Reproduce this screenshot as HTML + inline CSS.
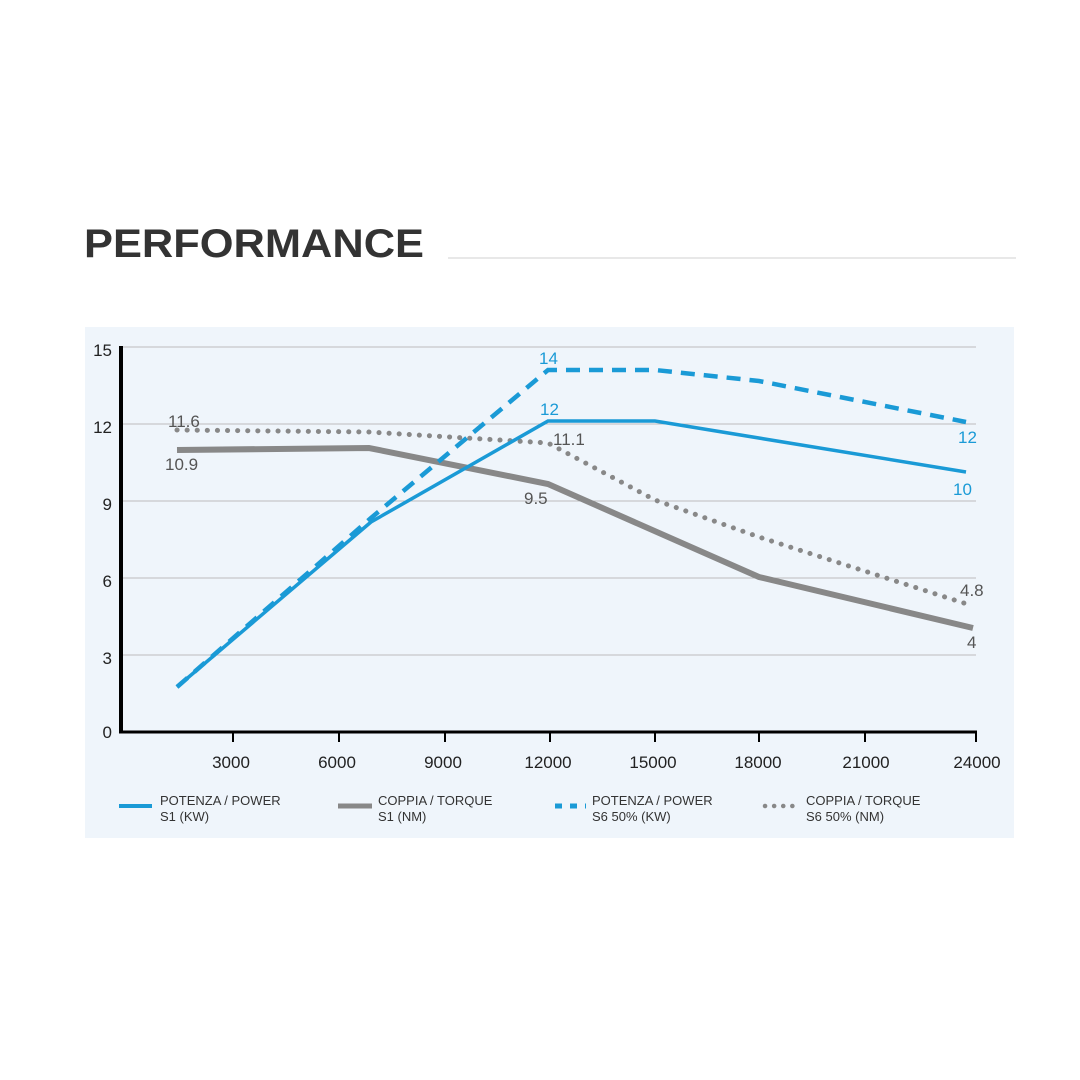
<!DOCTYPE html>
<html><head><meta charset="utf-8"><style>
html,body{margin:0;padding:0;background:#fff;width:1080px;height:1080px;overflow:hidden}
</style></head><body>
<svg width="1080" height="1080" xmlns="http://www.w3.org/2000/svg" font-family="Liberation Sans, sans-serif">
<text x="84" y="257" font-size="40" font-weight="bold" fill="#333" textLength="340" lengthAdjust="spacingAndGlyphs">PERFORMANCE</text>
<line x1="448" y1="258" x2="1016" y2="258" stroke="#e8e8e8" stroke-width="2"/>
<rect x="85" y="327" width="929" height="511" fill="#eff5fb"/>
<g stroke="#bcbcbc" stroke-width="1">
<line x1="121" y1="347" x2="976" y2="347"/><line x1="121" y1="424" x2="976" y2="424"/>
<line x1="121" y1="501" x2="976" y2="501"/><line x1="121" y1="578" x2="976" y2="578"/>
<line x1="121" y1="655" x2="976" y2="655"/>
</g>
<line x1="121" y1="346" x2="121" y2="733" stroke="#000" stroke-width="4"/>
<line x1="119" y1="732" x2="977" y2="732" stroke="#000" stroke-width="3"/>
<g stroke="#000" stroke-width="2">
<line x1="233" y1="732" x2="233" y2="742"/><line x1="339" y1="732" x2="339" y2="742"/>
<line x1="445" y1="732" x2="445" y2="742"/><line x1="550" y1="732" x2="550" y2="742"/>
<line x1="655" y1="732" x2="655" y2="742"/><line x1="759" y1="732" x2="759" y2="742"/>
<line x1="865" y1="732" x2="865" y2="742"/><line x1="976" y1="732" x2="976" y2="742"/>
</g>
<g font-size="17" fill="#222" text-anchor="end">
<text x="112" y="356">15</text><text x="112" y="433">12</text><text x="112" y="510">9</text>
<text x="112" y="587">6</text><text x="112" y="664">3</text><text x="112" y="738">0</text>
</g>
<g font-size="17" fill="#222" text-anchor="middle">
<text x="231" y="768">3000</text><text x="337" y="768">6000</text><text x="443" y="768">9000</text>
<text x="548" y="768">12000</text><text x="653" y="768">15000</text><text x="758" y="768">18000</text>
<text x="866" y="768">21000</text><text x="977" y="768">24000</text>
</g>
<polyline points="177,450 369,448 548,484 759,577 973,628" fill="none" stroke="#888" stroke-width="6"/>
<polyline points="177,430 369,432 548,443 655,500 759,537 973,606" fill="none" stroke="#888" stroke-width="5" stroke-dasharray="0.1 10" stroke-linecap="round"/>
<polyline points="177,687 371,522 548,421 655,421 966,472" fill="none" stroke="#1a9ad6" stroke-width="3.5"/>
<polyline points="177,687 371,518 548,370 655,370 759,381 966,422" fill="none" stroke="#1a9ad6" stroke-width="4.5" stroke-dasharray="14 9"/>
<g font-size="17" fill="#555">
<text x="168" y="427">11.6</text><text x="165" y="470">10.9</text><text x="553" y="445">11.1</text>
<text x="524" y="504">9.5</text><text x="960" y="596">4.8</text><text x="967" y="648">4</text>
</g>
<g font-size="17" fill="#1a9ad6">
<text x="539" y="364">14</text><text x="540" y="415">12</text><text x="958" y="443">12</text><text x="953" y="495">10</text>
</g>
<g font-size="13" fill="#333">
<line x1="119" y1="806" x2="152" y2="806" stroke="#1a9ad6" stroke-width="4"/>
<text x="160" y="805">POTENZA / POWER</text><text x="160" y="821">S1 (KW)</text>
<line x1="338" y1="806" x2="372" y2="806" stroke="#888" stroke-width="5"/>
<text x="378" y="805">COPPIA / TORQUE</text><text x="378" y="821">S1 (NM)</text>
<line x1="555" y1="806" x2="586" y2="806" stroke="#1a9ad6" stroke-width="5" stroke-dasharray="7 8"/>
<text x="592" y="805">POTENZA / POWER</text><text x="592" y="821">S6 50% (KW)</text>
<line x1="765" y1="806" x2="798" y2="806" stroke="#888" stroke-width="4.5" stroke-dasharray="0.1 9" stroke-linecap="round"/>
<text x="806" y="805">COPPIA / TORQUE</text><text x="806" y="821">S6 50% (NM)</text>
</g>
</svg>
</body></html>
